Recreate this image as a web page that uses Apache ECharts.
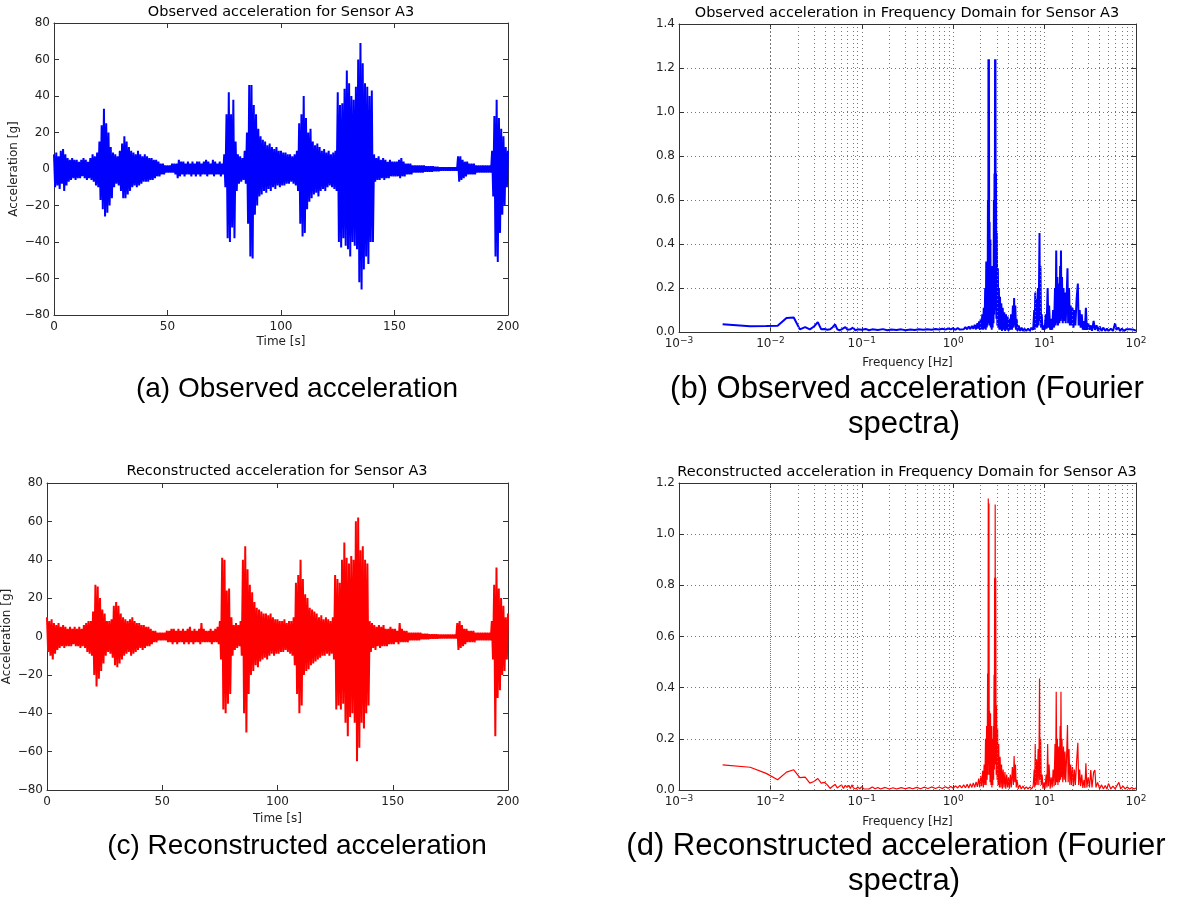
<!DOCTYPE html>
<html><head><meta charset="utf-8">
<script src="https://cdn.jsdelivr.net/npm/echarts@6/dist/echarts.min.js"></script>
<style>html,body{margin:0;padding:0;background:#fff}#c{width:1189px;height:901px}</style>
</head><body><div id="c"></div>
<script>
// ---- Time-domain signal: peak (upper) at t = i s, trough (lower) at t = i + 0.5 s ----
const obsUpper = [
 8,9,7,10,11,8,6,5,6,5, 5,4,5,6,5,4,6,8,7,9,
 15,24,33,25,20,12,9,8,7,10, 14,18,15,12,10,9,8,10,8,7,
 8,7,6,6,5,5,4,3,3,2, 2,2,3,3,3,5,4,4,3,4,
 3,4,3,4,4,3,4,5,4,3, 5,4,3,4,3,8,30,42,30,38,
 15,8,7,6,10,20,46,46,35,30, 22,18,16,15,13,14,12,11,12,10,
 10,9,9,8,8,7,8,10,25,30, 40,28,20,22,15,13,14,12,10,11,
 9,10,8,9,10,42,35,36,44,54, 47,40,38,45,60,69,58,47,45,40,
 43,8,6,7,5,6,5,4,5,4, 4,4,5,6,4,3,3,3,2,2,
 2,2,2,2,1.5,1.5,1.5,1.5,1.2,1.2, 1,1,1,1,1,1,1,1,7,7,
 5,4,4,3,3,3,2,2,2,2, 2,2,2,10,29,38,28,22,18,12, 10];
const obsLower = [
 -10,-9,-11,-8,-12,-9,-7,-6,-5,-6, -5,-5,-4,-5,-6,-5,-6,-7,-9,-10,
 -17,-22,-26,-24,-20,-16,-10,-8,-9,-12, -16,-16,-14,-12,-10,-9,-10,-9,-8,-7,
 -7,-7,-6,-6,-5,-4,-4,-3,-3,-2, -2,-2,-2,-3,-5,-4,-3,-4,-3,-3,
 -4,-3,-4,-3,-4,-3,-3,-4,-3,-3, -4,-3,-3,-4,-3,-10,-38,-40,-32,-38,
 -12,-8,-7,-6,-8,-30,-48,-49,-25,-20, -15,-14,-12,-13,-11,-12,-10,-11,-9,-10,
 -9,-9,-8,-8,-7,-8,-9,-12,-30,-37, -35,-22,-18,-16,-14,-13,-15,-12,-11,-12,
 -10,-9,-10,-11,-12,-40,-43,-38,-42,-44, -48,-40,-42,-44,-62,-66,-55,-48,-52,-40,
 -40,-7,-6,-6,-5,-6,-5,-5,-4,-4, -4,-4,-5,-4,-4,-3,-3,-3,-2,-2,
 -2,-2,-2,-1.5,-1.5,-1.5,-1.5,-1.2,-1.2,-1.2, -1,-1,-1,-1,-1,-1,-1,-1,-7,-6,
 -5,-4,-3,-3,-3,-3,-2,-2,-2,-2, -2,-2,-2,-15,-48,-51,-35,-25,-20,-10];
const recUpper = [
 10,8,9,7,6,7,5,6,5,4, 5,4,5,4,5,4,6,7,8,8,
 13,27,26,20,14,12,8,8,9,16, 18,16,12,10,9,8,9,10,8,7,
 7,6,6,5,5,4,3,3,2,2, 2,2,3,3,4,4,3,4,3,4,
 3,4,5,3,4,3,4,7,4,3, 3,4,3,4,5,8,41,40,24,25,
 10,6,7,6,8,40,47,35,27,23, 18,15,14,13,12,12,11,12,10,9,
 9,8,8,9,7,8,8,10,28,32, 40,30,22,20,15,14,13,12,10,11,
 9,10,9,8,10,32,30,28,40,49, 41,38,42,40,60,62,45,47,40,38,
 8,7,6,5,6,5,6,4,4,5, 4,4,3,7,4,3,3,2,2,2,
 2,2,2,1.5,1.5,1.5,1.2,1.2,1.2,1.2, 1,1,1,1,1,1,1,1,7,8,
 6,4,4,3,3,3,2,2,2,2, 2,2,2,8,27,36,25,20,16,10, 12];
const recLower = [
 -8,-10,-12,-9,-7,-6,-5,-6,-5,-5, -5,-4,-5,-5,-6,-5,-6,-8,-9,-10,
 -20,-26,-22,-18,-14,-10,-8,-9,-11,-15, -16,-14,-12,-10,-9,-8,-10,-9,-8,-7,
 -6,-7,-6,-5,-5,-4,-3,-3,-2,-2, -2,-2,-3,-3,-4,-3,-4,-3,-3,-4,
 -3,-4,-3,-4,-3,-3,-4,-3,-3,-3, -3,-4,-3,-3,-4,-12,-38,-40,-35,-30,
 -10,-7,-6,-5,-10,-40,-50,-30,-20,-18, -15,-16,-13,-12,-11,-12,-10,-9,-10,-9,
 -9,-8,-8,-7,-8,-9,-10,-15,-30,-40, -36,-20,-18,-17,-15,-14,-13,-12,-11,-10,
 -10,-9,-10,-9,-12,-38,-36,-38,-35,-45, -52,-42,-40,-45,-65,-58,-45,-48,-40,-36,
 -8,-6,-7,-5,-6,-5,-5,-5,-4,-4, -4,-3,-4,-3,-3,-3,-3,-2,-2,-2,
 -2,-2,-1.5,-1.5,-1.5,-1.5,-1.2,-1.2,-1.2,-1.2, -1,-1,-1,-1,-1,-1,-1,-1,-7,-6,
 -5,-4,-3,-3,-3,-3,-2,-2,-2,-2, -2,-2,-2,-12,-52,-32,-28,-20,-18,-12];

// ---- Fourier spectra (frequency in Hz, amplitude) ----
const obsFreq = [0.003,0.006,0.009,0.012,0.015,0.018,0.021,0.024,0.027,0.030,0.033,0.036,0.039,0.042,0.045,0.048,0.051,0.054,0.057,0.060,0.066,0.070,0.075,0.080,0.085,0.090,
 0.10,0.11,0.12,0.13,0.15,0.17,0.19,0.21,0.24,0.27,0.30,0.34,0.38,0.42,0.47,0.52,0.58,0.64,0.70,0.76,0.82,0.88,0.94,
 1.00,1.06,1.12,1.18,1.24,1.30,1.36,1.42,1.48,1.54,1.60,1.66,1.72,1.78,1.84,1.88,1.92,1.96,2.00,2.04,2.08,2.12,2.16,2.20,2.24,2.27,
 2.30,2.33,2.36,2.38,2.40,2.42,2.43,2.44,2.46,2.48,2.50,2.52,2.55,2.58,2.61,2.64,2.67,2.70,2.73,2.76,2.79,2.81,2.83,2.85,2.87,2.88,2.90,2.92,2.94,2.97,
 3.00,3.04,3.08,3.12,3.16,3.20,3.25,3.30,3.36,3.42,3.48,3.55,3.62,3.70,3.78,3.86,3.94,4.02,4.10,4.20,4.30,4.40,4.50,4.58,4.64,4.70,4.78,4.86,4.95,
 5.05,5.20,5.40,5.60,5.80,6.00,6.30,6.60,6.90,7.20,7.50,7.70,7.80,7.90,8.00,8.15,8.30,8.45,8.60,8.80,8.90,9.00,9.15,9.30,9.50,9.80,
 10.0,10.3,10.5,10.8,11.0,11.2,11.5,11.8,12.1,12.4,12.7,13.0,13.2,13.4,13.6,13.8,14.0,14.3,14.5,14.8,14.95,15.1,15.3,15.5,15.8,16.1,16.4,16.7,17.0,17.4,17.8,18.1,18.5,18.9,19.3,19.7,
 20.2,20.7,21.2,21.7,22.4,23.1,23.6,24.2,24.8,25.5,26.2,27.0,27.6,28.3,29.0,30.0,31.0,32.0,33.0,34.4,35.5,37.0,38.5,40.0,42.0,44.0,46.0,48.0,
 50.0,53.0,56.0,59.0,61.0,64.0,67.0,70.0,74.0,78.0,82.0,86.0,90.0,95.0,100.0];
const obsAmp = [0.035,0.026,0.027,0.028,0.064,0.066,0.012,0.022,0.012,0.025,0.045,0.012,0.014,0.010,0.012,0.022,0.035,0.012,0.008,0.012,0.022,0.010,0.012,0.020,0.008,0.012,
 0.010,0.014,0.008,0.012,0.009,0.013,0.008,0.011,0.009,0.012,0.008,0.011,0.009,0.012,0.010,0.013,0.010,0.014,0.011,0.015,0.011,0.016,0.012,
 0.017,0.010,0.018,0.011,0.020,0.012,0.022,0.012,0.025,0.013,0.028,0.014,0.033,0.012,0.040,0.015,0.048,0.010,0.060,0.012,0.080,0.010,0.110,0.015,0.200,0.010,
 0.320,0.020,0.300,0.030,0.600,0.050,1.240,0.080,1.240,0.040,0.500,0.030,0.420,0.020,0.300,0.010,0.250,0.020,0.300,0.040,0.600,0.080,0.720,0.100,1.240,0.150,1.240,0.100,0.720,0.060,
 0.450,0.030,0.290,0.020,0.200,0.010,0.160,0.010,0.130,0.005,0.110,0.010,0.090,0.005,0.080,0.010,0.070,0.005,0.060,0.010,0.080,0.010,0.120,0.020,0.155,0.030,0.120,0.010,0.060,
 0.005,0.030,0.005,0.020,0.005,0.015,0.005,0.015,0.005,0.020,0.010,0.100,0.010,0.180,0.020,0.150,0.020,0.200,0.030,0.450,0.050,0.300,0.020,0.080,0.010,0.030,
 0.010,0.080,0.015,0.200,0.020,0.120,0.010,0.060,0.010,0.100,0.020,0.200,0.030,0.370,0.040,0.250,0.030,0.220,0.040,0.300,0.050,0.370,0.060,0.250,0.040,0.200,0.050,0.180,0.040,0.150,0.290,0.040,0.200,0.030,0.120,0.030,
 0.110,0.020,0.100,0.030,0.150,0.220,0.030,0.100,0.020,0.080,0.010,0.050,0.010,0.110,0.010,0.040,0.010,0.030,0.005,0.050,0.010,0.030,0.005,0.025,0.005,0.020,0.005,0.015,
 0.005,0.015,0.005,0.040,0.010,0.020,0.005,0.015,0.005,0.012,0.004,0.012,0.004,0.010,0.006];

const recFreq = [0.003,0.006,0.009,0.012,0.015,0.018,0.021,0.024,0.027,0.030,0.033,0.036,0.039,0.042,0.045,0.048,0.051,0.054,0.057,0.060,0.063,0.066,0.069,0.072,0.075,0.078,0.081,0.084,0.087,0.090,0.095,
 0.10,0.105,0.11,0.12,0.13,0.14,0.15,0.16,0.18,0.20,0.22,0.24,0.27,0.30,0.33,0.36,0.40,0.44,0.48,0.53,0.58,0.64,0.70,0.76,0.82,0.88,0.94,
 1.00,1.06,1.12,1.18,1.24,1.30,1.36,1.42,1.48,1.54,1.60,1.66,1.72,1.78,1.84,1.90,1.95,2.00,2.05,2.10,2.14,2.18,2.22,2.26,2.29,
 2.32,2.35,2.38,2.40,2.42,2.44,2.46,2.48,2.50,2.53,2.56,2.59,2.62,2.65,2.68,2.71,2.74,2.77,2.80,2.82,2.84,2.86,2.88,2.90,2.92,2.95,2.98,
 3.02,3.06,3.10,3.15,3.20,3.26,3.32,3.38,3.45,3.52,3.60,3.68,3.76,3.85,3.94,4.03,4.12,4.22,4.32,4.44,4.55,4.64,4.72,4.80,4.90,
 5.00,5.15,5.35,5.55,5.80,6.05,6.30,6.60,6.90,7.20,7.50,7.70,7.80,7.90,8.00,8.15,8.30,8.50,8.65,8.80,8.90,9.05,9.20,9.40,9.60,9.90,
 10.1,10.4,10.6,10.8,11.0,11.2,11.5,11.8,12.1,12.4,12.7,13.0,13.2,13.4,13.6,13.8,14.0,14.3,14.5,14.8,14.95,15.1,15.3,15.5,15.8,16.1,16.4,16.7,17.0,17.4,17.8,18.1,18.5,18.9,19.3,19.7,
 20.2,20.7,21.2,21.7,22.4,23.1,23.6,24.2,24.8,25.5,26.2,27.0,27.6,28.3,29.0,30.0,31.0,32.0,33.0,34.4,35.5,36.5,38.0,40.0,42.0,44.0,46.0,48.0,
 50.0,53.0,56.0,59.0,62.0,65.0,68.0,72.0,76.0,80.0,85.0,90.0,95.0,100.0];
const recAmp = [0.098,0.089,0.065,0.040,0.070,0.079,0.048,0.050,0.027,0.033,0.045,0.027,0.030,0.020,0.006,0.015,0.022,0.008,0.015,0.020,0.006,0.018,0.010,0.018,0.006,0.020,0.008,0.014,0.004,0.012,0.005,
 0.013,0.004,0.011,0.004,0.012,0.005,0.010,0.004,0.010,0.004,0.009,0.004,0.009,0.005,0.009,0.005,0.010,0.005,0.011,0.006,0.012,0.006,0.012,0.006,0.013,0.007,0.014,
 0.007,0.016,0.008,0.018,0.008,0.020,0.009,0.022,0.008,0.025,0.010,0.028,0.010,0.032,0.012,0.045,0.010,0.055,0.015,0.075,0.010,0.100,0.020,0.200,0.020,
 0.250,0.040,0.455,0.060,1.139,0.100,1.120,0.060,0.310,0.030,0.300,0.020,0.250,0.010,0.200,0.020,0.250,0.040,0.450,0.080,0.830,0.100,1.116,0.120,0.830,0.060,0.330,
 0.040,0.240,0.020,0.180,0.010,0.130,0.010,0.100,0.005,0.080,0.010,0.070,0.005,0.060,0.010,0.050,0.005,0.060,0.010,0.090,0.020,0.133,0.030,0.100,0.010,
 0.040,0.005,0.020,0.004,0.015,0.004,0.012,0.004,0.012,0.004,0.015,0.080,0.010,0.180,0.020,0.120,0.020,0.160,0.020,0.436,0.040,0.200,0.020,0.060,0.005,0.030,
 0.005,0.060,0.010,0.180,0.015,0.100,0.005,0.050,0.010,0.080,0.015,0.180,0.020,0.384,0.030,0.200,0.020,0.170,0.030,0.250,0.040,0.384,0.050,0.200,0.030,0.170,0.040,0.150,0.030,0.130,0.254,0.030,0.160,0.020,0.100,0.020,
 0.090,0.015,0.080,0.020,0.110,0.185,0.020,0.080,0.015,0.060,0.008,0.040,0.008,0.104,0.010,0.050,0.010,0.078,0.010,0.070,0.078,0.010,0.030,0.005,0.020,0.004,0.018,0.004,
 0.025,0.004,0.015,0.004,0.018,0.030,0.004,0.015,0.004,0.012,0.004,0.010,0.004,0.008];

const minorFreqs = [];
[0.001, 0.01, 0.1, 1, 10].forEach(d => { for (let k = 2; k <= 9; k++) minorFreqs.push(+(d * k).toPrecision(3)); });

function zigzag(up, lo) {
  const d = [];
  for (let i = 0; i < lo.length; i++) { d.push([i, up[i]]); d.push([i + 0.5, lo[i]]); }
  d.push([lo.length, up[lo.length]]);
  return d;
}
const pairs = (xs, ys) => xs.map((x, i) => [x, ys[i]]);

const FONT = '"DejaVu Sans", sans-serif';
const frame = '#333';
const minus = v => (v < 0 ? '\u2212' + Math.abs(v) : String(v));
const logLabel = v => { const e = Math.round(Math.log10(v)); return '{b|10}{s|' + (e < 0 ? '\u2212' + (-e) : e) + '}'; };
const logRich = { b: { fontSize: 12, fontFamily: FONT, color: '#222', lineHeight: 14, verticalAlign: 'bottom' },
                  s: { fontSize: 9, fontFamily: FONT, color: '#222', lineHeight: 10, verticalAlign: 'top' } };

function timeX(grid, extra) {
  return Object.assign({ type: 'value', gridIndex: grid, min: 0, max: 200, interval: 50,
    axisLine: { show: true, onZero: false, lineStyle: { color: frame } },
    axisTick: { inside: true, length: 5, lineStyle: { color: frame } },
    axisLabel: { fontFamily: FONT, fontSize: 12, color: '#222', margin: 6, hideOverlap: false },
    splitLine: { show: false } }, extra);
}
function timeY(grid, extra) {
  return Object.assign({ type: 'value', gridIndex: grid, min: -80, max: 80, interval: 20,
    axisLine: { show: true, onZero: false, lineStyle: { color: frame } },
    axisTick: { inside: true, length: 5, lineStyle: { color: frame } },
    axisLabel: { fontFamily: FONT, fontSize: 12, color: '#222', margin: 4, formatter: minus, hideOverlap: false },
    splitLine: { show: false } }, extra);
}
function logX(grid, extra) {
  return Object.assign({ type: 'log', logBase: 10, gridIndex: grid, min: 0.001, max: 100,
    axisLine: { show: true, onZero: false, lineStyle: { color: frame } },
    axisTick: { inside: true, length: 5, lineStyle: { color: frame } },
    axisLabel: { formatter: logLabel, rich: logRich, margin: 4, hideOverlap: false },
    splitLine: { show: true, lineStyle: { color: '#777', type: [1, 3], width: 1 } } }, extra);
}
function ampY(grid, max, extra) {
  return Object.assign({ type: 'value', gridIndex: grid, min: 0, max: max, interval: 0.2,
    axisLine: { show: true, onZero: false, lineStyle: { color: frame } },
    axisTick: { inside: true, length: 5, lineStyle: { color: frame } },
    axisLabel: { fontFamily: FONT, fontSize: 12, color: '#222', margin: 4, formatter: v => v.toFixed(1), hideOverlap: false },
    splitLine: { show: true, lineStyle: { color: '#777', type: [1, 3], width: 1 } } }, extra);
}
const hidden = { axisLabel: { show: false }, splitLine: { show: false } };
const nameX = (n, gap) => ({ name: n, nameLocation: 'middle', nameGap: gap, nameTextStyle: { fontFamily: FONT, fontSize: 12, color: '#222' } });
const nameY = (n, gap) => ({ name: n, nameLocation: 'middle', nameGap: gap, nameRotate: 90, nameTextStyle: { fontFamily: FONT, fontSize: 12, color: '#222' } });

function minorGridSeries(xi, yi) {
  return { type: 'line', xAxisIndex: xi, yAxisIndex: yi, z: 1, silent: true, symbol: 'none',
    data: [[1, 0]], lineStyle: { opacity: 0 },
    markLine: { silent: true, symbol: 'none', animation: false, label: { show: false },
      lineStyle: { color: '#777', type: [1, 3], width: 1 },
      data: minorFreqs.map(f => ({ xAxis: f })) } };
}

const text = (str, x, y, font, extra) => Object.assign({ type: 'text', x: x, y: y, silent: true,
  style: { text: str, font: font, fill: '#000', textAlign: 'center', textVerticalAlign: 'middle', align: 'center', verticalAlign: 'middle' } }, extra || {});
const TITLE = '14.5px "DejaVu Sans", sans-serif';
const CAPL = '28px "Liberation Sans", Arial, sans-serif';
const CAPR = '31px "Liberation Sans", Arial, sans-serif';

const chart = echarts.init(document.getElementById('c'), null, { renderer: 'canvas' });
chart.setOption({
  animation: false,
  backgroundColor: '#fff',
  grid: [
    { left: 54, top: 23, width: 454, height: 292 },
    { left: 679, top: 24, width: 457, height: 308 },
    { left: 47, top: 483, width: 461, height: 307 },
    { left: 679, top: 483, width: 457, height: 307 }
  ],
  xAxis: [
    timeX(0, nameX('Time [s]', 21)),
    timeX(0, Object.assign({ position: 'top' }, hidden)),
    logX(1, nameX('Frequency [Hz]', 25)),
    logX(1, Object.assign({ position: 'top' }, hidden)),
    timeX(2, nameX('Time [s]', 23)),
    timeX(2, Object.assign({ position: 'top' }, hidden)),
    logX(3, nameX('Frequency [Hz]', 26)),
    logX(3, Object.assign({ position: 'top' }, hidden))
  ],
  yAxis: [
    timeY(0, nameY('Acceleration [g]', 34)),
    timeY(0, Object.assign({ position: 'right' }, hidden)),
    ampY(1, 1.4),
    ampY(1, 1.4, Object.assign({ position: 'right' }, hidden)),
    timeY(2, nameY('Acceleration [g]', 34)),
    timeY(2, Object.assign({ position: 'right' }, hidden)),
    ampY(3, 1.2),
    ampY(3, 1.2, Object.assign({ position: 'right' }, hidden))
  ],
  series: [
    { type: 'line', xAxisIndex: 0, yAxisIndex: 0, z: 3, symbol: 'none', data: zigzag(obsUpper, obsLower),
      lineStyle: { color: '#0000ff', width: 2 } },
    minorGridSeries(2, 2),
    { type: 'line', xAxisIndex: 2, yAxisIndex: 2, z: 3, symbol: 'none', data: pairs(obsFreq, obsAmp),
      lineStyle: { color: '#0000ff', width: 2 } },
    { type: 'line', xAxisIndex: 4, yAxisIndex: 4, z: 3, symbol: 'none', data: zigzag(recUpper, recLower),
      lineStyle: { color: '#ff0000', width: 2 } },
    minorGridSeries(6, 6),
    { type: 'line', xAxisIndex: 6, yAxisIndex: 6, z: 3, symbol: 'none', data: pairs(recFreq, recAmp),
      lineStyle: { color: '#ff0000', width: 1.2 } }
  ],
  graphic: [
    text('Observed acceleration for Sensor A3', 281, 12, TITLE),
    text('Observed acceleration in Frequency Domain for Sensor A3', 907, 13, TITLE),
    text('Reconstructed acceleration for Sensor A3', 277, 471, TITLE),
    text('Reconstructed acceleration in Frequency Domain for Sensor A3', 907, 472, TITLE),
    text('(a) Observed acceleration', 297, 389, CAPL),
    text('(b) Observed acceleration (Fourier', 907, 389, CAPR),
    text('spectra)', 904, 424, CAPR),
    text('(c) Reconstructed acceleration', 297, 846, CAPL),
    text('(d) Reconstructed acceleration (Fourier', 896, 846, CAPR),
    text('spectra)', 904, 881, CAPR)
  ]
});
</script></body></html>
